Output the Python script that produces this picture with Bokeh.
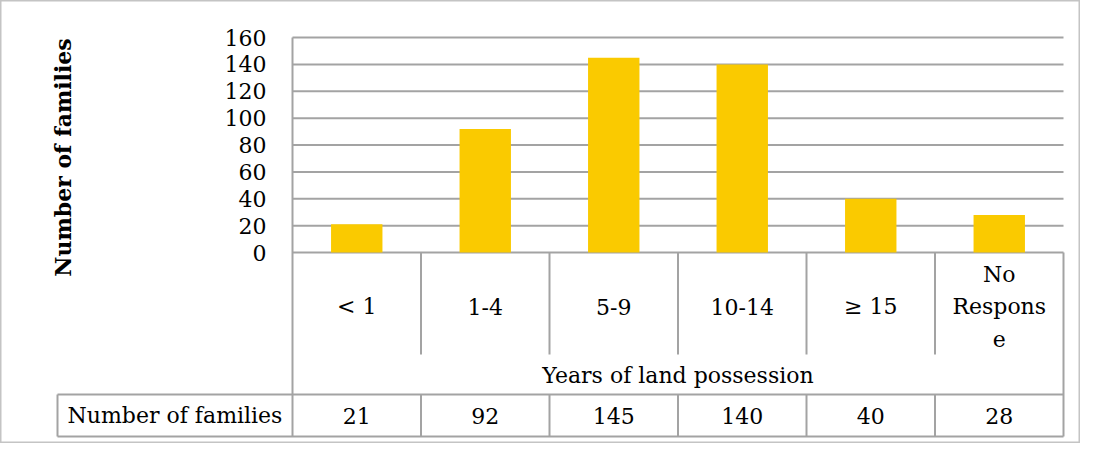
import math
from bokeh.plotting import figure
from bokeh.models import Range1d, LinearAxis, FixedTicker
from bokeh.core.properties import value
from bokeh.embed import file_html
from bokeh.resources import INLINE

# ---- data ----
categories = ["< 1", "1-4", "5-9", "10-14", "\u2265 15", "No\nRespons\ne"]
families = [21, 92, 145, 140, 40, 28]
y_ticks = [0, 20, 40, 60, 80, 100, 120, 140, 160]
row_label = "Number of families"
y_title = "Number of families"
x_title = "Years of land possession"

# ---- layout (pixels, figure coordinates) ----
W, H = 1080, 443
AX_X = 292.0      # left edge of category area
RIGHT_X = 1063.0  # right edge of category area
LEFT_COL_X = 57.0
TOP_Y = 37.0      # pixel y of top tick
ZERO_Y = 252.0    # pixel y of zero
ROW1_Y = 354.0
ROW2_Y = 394.0
BOT_Y = 436.0

FONT_NAME = "DejaVu Serif"
FONT = value(FONT_NAME)
FS = "22px"
LINE = "#a3a3a3"

n = len(categories)
ux = (RIGHT_X - AX_X) / n
uy = (ZERO_Y - TOP_Y) / y_ticks[-1]
x_start = -AX_X / ux
x_end = n + (W - RIGHT_X) / ux
y_end = y_ticks[-1] + TOP_Y / uy
y_start = -(H - ZERO_Y) / uy


def X(px):
    return (px - AX_X) / ux


def Y(py):
    return (ZERO_Y - py) / uy


p = figure(width=W, height=H, output_backend="svg", toolbar_location=None,
           x_range=Range1d(x_start, x_end), y_range=Range1d(y_start, y_end),
           x_axis_type=None, y_axis_type=None, tools="",
           min_border=0, min_border_left=0, min_border_right=0,
           min_border_top=0, min_border_bottom=0)
p.grid.visible = False
p.background_fill_color = "white"
p.border_fill_color = "white"
p.outline_line_color = "#c4c4c4"
p.outline_line_width = 2

centers = [i + 0.5 for i in range(n)]

# gridlines
p.segment(x0=[0] * len(y_ticks), x1=[n] * len(y_ticks), y0=y_ticks, y1=y_ticks,
          line_color=LINE, line_width=2)

# bars
p.vbar(x=centers, top=families, bottom=0, width=0.4,
       fill_color="#FACA00", line_color=None)

# table lines
yb, y1, y2 = Y(BOT_Y), Y(ROW1_Y), Y(ROW2_Y)
xl = X(LEFT_COL_X)
vx = list(range(1, n))
p.segment(x0=vx, x1=vx, y0=[0] * len(vx), y1=[y1] * len(vx), line_color=LINE, line_width=2)
p.segment(x0=vx, x1=vx, y0=[y2] * len(vx), y1=[yb] * len(vx), line_color=LINE, line_width=2)
p.segment(x0=[n, xl], x1=[n, xl], y0=[0, y2], y1=[yb, yb], line_color=LINE, line_width=2)
p.segment(x0=[xl, xl], x1=[n, n], y0=[y2, yb], y1=[y2, yb], line_color=LINE, line_width=2)

# y axis
yaxis = LinearAxis(fixed_location=0, ticker=FixedTicker(ticks=y_ticks),
                   bounds=(yb, y_ticks[-1]))
yaxis.axis_line_color = LINE
yaxis.axis_line_width = 2
yaxis.major_tick_line_color = None
yaxis.minor_tick_line_color = None
yaxis.major_tick_out = 0
yaxis.major_tick_in = 0
yaxis.major_label_standoff = 26
yaxis.major_label_text_font = FONT_NAME
yaxis.major_label_text_font_size = FS
yaxis.major_label_text_color = "black"
p.add_layout(yaxis, "left")

# y title
p.text(x=[X(62)], y=[Y(157)], text=[y_title], angle=math.pi / 2,
       text_align="center", text_baseline="middle", text_font=FONT,
       text_font_size="22px", text_font_style="bold", text_color="black")

# category labels
p.text(x=centers, y=[Y(306)] * n, text=categories, text_align="center",
       text_baseline="middle", text_font=FONT, text_font_size=FS,
       text_line_height=1.3, text_color="black")

# x title
p.text(x=[n / 2], y=[Y(375)], text=[x_title], text_align="center",
       text_baseline="middle", text_font=FONT, text_font_size=FS, text_color="black")

# data row
p.text(x=centers, y=[Y(415)] * n, text=[str(v) for v in families], text_align="center",
       text_baseline="middle", text_font=FONT, text_font_size=FS, text_color="black")
p.text(x=[(xl + 0) / 2], y=[Y(415)], text=[row_label], text_align="center",
       text_baseline="middle", text_font=FONT, text_font_size=FS, text_color="black")

open("out.html", "w").write(file_html(p, INLINE))
